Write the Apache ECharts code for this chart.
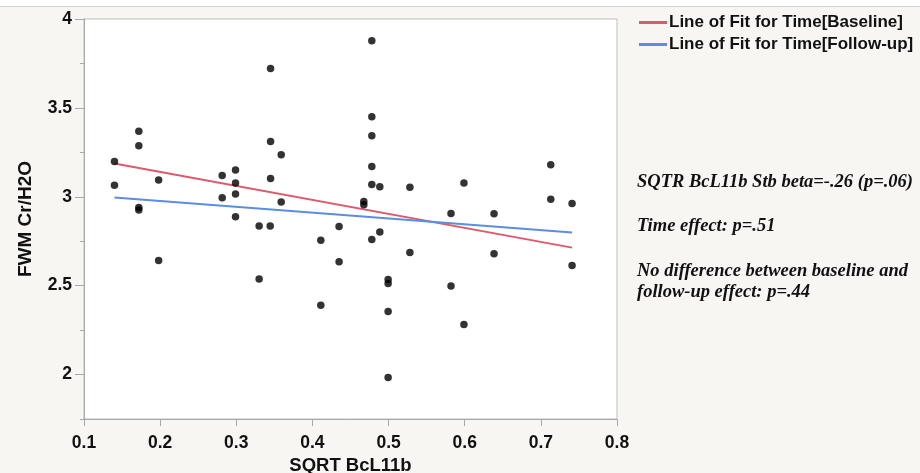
<!DOCTYPE html>
<html><head><meta charset="utf-8">
<script src="https://cdn.jsdelivr.net/npm/echarts@6/dist/echarts.min.js"></script>
<style>html,body{margin:0;padding:0;background:#f7f6f2}#c{width:920px;height:473px}</style>
</head><body><div id="c"></div>
<script>
// Data points (x = SQRT BcL11b, y = FWM Cr/H2O)
const pointsX = [0.140,0.140,0.172,0.172,0.172,0.172,0.198,0.198,0.2815,0.2815,0.299,0.299,0.299,0.299,
  0.330,0.330,0.345,0.345,0.345,0.3445,0.359,0.359,0.411,0.411,0.435,0.435,
  0.4675,0.4675,0.478,0.478,0.478,0.478,0.478,0.478,0.4885,0.4885,0.4994,0.4994,0.4994,0.4994,
  0.528,0.528,0.582,0.582,0.599,0.599,0.6385,0.6385,0.713,0.713,0.741,0.741];
const pointsY = [3.199,3.065,3.368,3.287,2.940,2.926,3.095,2.641,3.120,2.994,3.150,3.077,3.015,2.887,
  2.836,2.538,3.722,3.311,3.103,2.836,3.236,2.971,2.756,2.390,2.833,2.634,
  2.974,2.955,3.878,3.450,3.343,3.171,3.069,2.760,3.056,2.802,2.534,2.512,2.354,1.983,
  3.054,2.686,2.906,2.498,3.077,2.281,2.904,2.679,3.180,2.986,2.962,2.613];
const fitBaselineX = [0.140, 0.741];
const fitBaselineY = [3.187, 2.714];
const fitFollowupX = [0.140, 0.741];
const fitFollowupY = [2.996, 2.799];
const xTicks = [0.1,0.2,0.3,0.4,0.5,0.6,0.7,0.8];
const yMajorTicks = [2,2.5,3,3.5,4];
const yMinorTicks = [1.75,2.25,2.75,3.25,3.75];
const legendNames = ['Line of Fit for Time[Baseline]','Line of Fit for Time[Follow-up]'];
const noteLines = ['SQTR BcL11b Stb beta=-.26 (p=.06)','Time effect: p=.51','No difference between baseline and','follow-up effect: p=.44'];

const chart = echarts.init(document.getElementById('c'));
const lab = {fontFamily:'Liberation Sans, Arial', fontWeight:'bold', fontSize:17.5, color:'#111'};
const noteFont = 'italic bold 18.5px "Liberation Serif", "Times New Roman", serif';
const option = {
  backgroundColor:'#f7f6f2',
  animation:false,
  grid:{left:84, right:303, top:19, bottom:54, outerBoundsMode:'none', containLabel:false,
        show:true, backgroundColor:'#fff', borderColor:'#bdbdbd', borderWidth:1},
  legend:{
    orient:'vertical', left:634, top:9, itemGap:5, itemWidth:28, itemHeight:3,
    icon:'rect', textStyle:{fontFamily:'Liberation Sans, Arial', fontWeight:'bold', fontSize:17, color:'#111', padding:[0,0,0,-3]},
    data:legendNames
  },
  xAxis:{
    type:'value', min:xTicks[0], max:xTicks[xTicks.length-1], interval:0.1,
    name:'SQRT BcL11b', nameLocation:'middle', nameGap:36,
    nameTextStyle:{fontFamily:'Liberation Sans, Arial', fontWeight:'bold', fontSize:18.5, color:'#111'},
    axisLine:{show:true, lineStyle:{color:'#a8a8a8'}},
    axisTick:{show:true, length:7, inside:false, lineStyle:{color:'#a8a8a8'}},
    axisLabel:Object.assign({margin:15, formatter:v=>v.toFixed(1)}, lab),
    splitLine:{show:false}
  },
  yAxis:[{
    type:'value', min:1.75, max:4,
    name:'FWM Cr/H2O', nameLocation:'middle', nameGap:49, nameRotate:90,
    nameTextStyle:{fontFamily:'Liberation Sans, Arial', fontWeight:'bold', fontSize:19, color:'#111'},
    axisLine:{show:true, lineStyle:{color:'#a8a8a8'}},
    axisTick:{show:true, length:9, customValues:yMajorTicks, lineStyle:{color:'#a8a8a8'}},
    axisLabel:Object.assign({margin:12, customValues:yMajorTicks, formatter:v=>String(v)}, lab),
    splitLine:{show:false}
  },{
    type:'value', min:1.75, max:4, position:'left',
    axisLine:{show:false},
    axisTick:{show:true, length:4, customValues:yMinorTicks, lineStyle:{color:'#a8a8a8'}},
    axisLabel:{show:false},
    splitLine:{show:false}
  }],
  series:[
    {type:'scatter', name:'points', symbolSize:7.5, itemStyle:{color:'#000'}, data:pointsX.map((x,i)=>[x,pointsY[i]]), z:3},
    {type:'line', name:legendNames[0], symbol:'none', lineStyle:{color:'#dd5a6e', width:2}, itemStyle:{color:'#dd5a6e'},
     data:fitBaselineX.map((x,i)=>[x,fitBaselineY[i]]), z:2},
    {type:'line', name:legendNames[1], symbol:'none', lineStyle:{color:'#5a8ee0', width:2}, itemStyle:{color:'#5a8ee0'},
     data:fitFollowupX.map((x,i)=>[x,fitFollowupY[i]]), z:2}
  ],
  graphic:[
    {type:'rect', left:0, top:0, shape:{width:920, height:6}, style:{fill:'#ffffff'}, silent:true},
    {type:'line', shape:{x1:0,y1:6.5,x2:920,y2:6.5}, style:{stroke:'#d0d0d0', lineWidth:1}, silent:true},
    {type:'text', left:637, top:173, style:{text:noteLines[0], font:noteFont, fill:'#111'}},
    {type:'text', left:637, top:217, style:{text:noteLines[1], font:noteFont, fill:'#111'}},
    {type:'text', left:637, top:262, style:{text:noteLines[2], font:noteFont, fill:'#111'}},
    {type:'text', left:637, top:283, style:{text:noteLines[3], font:noteFont, fill:'#111'}}
  ]
};
chart.setOption(option);
</script></body></html>
